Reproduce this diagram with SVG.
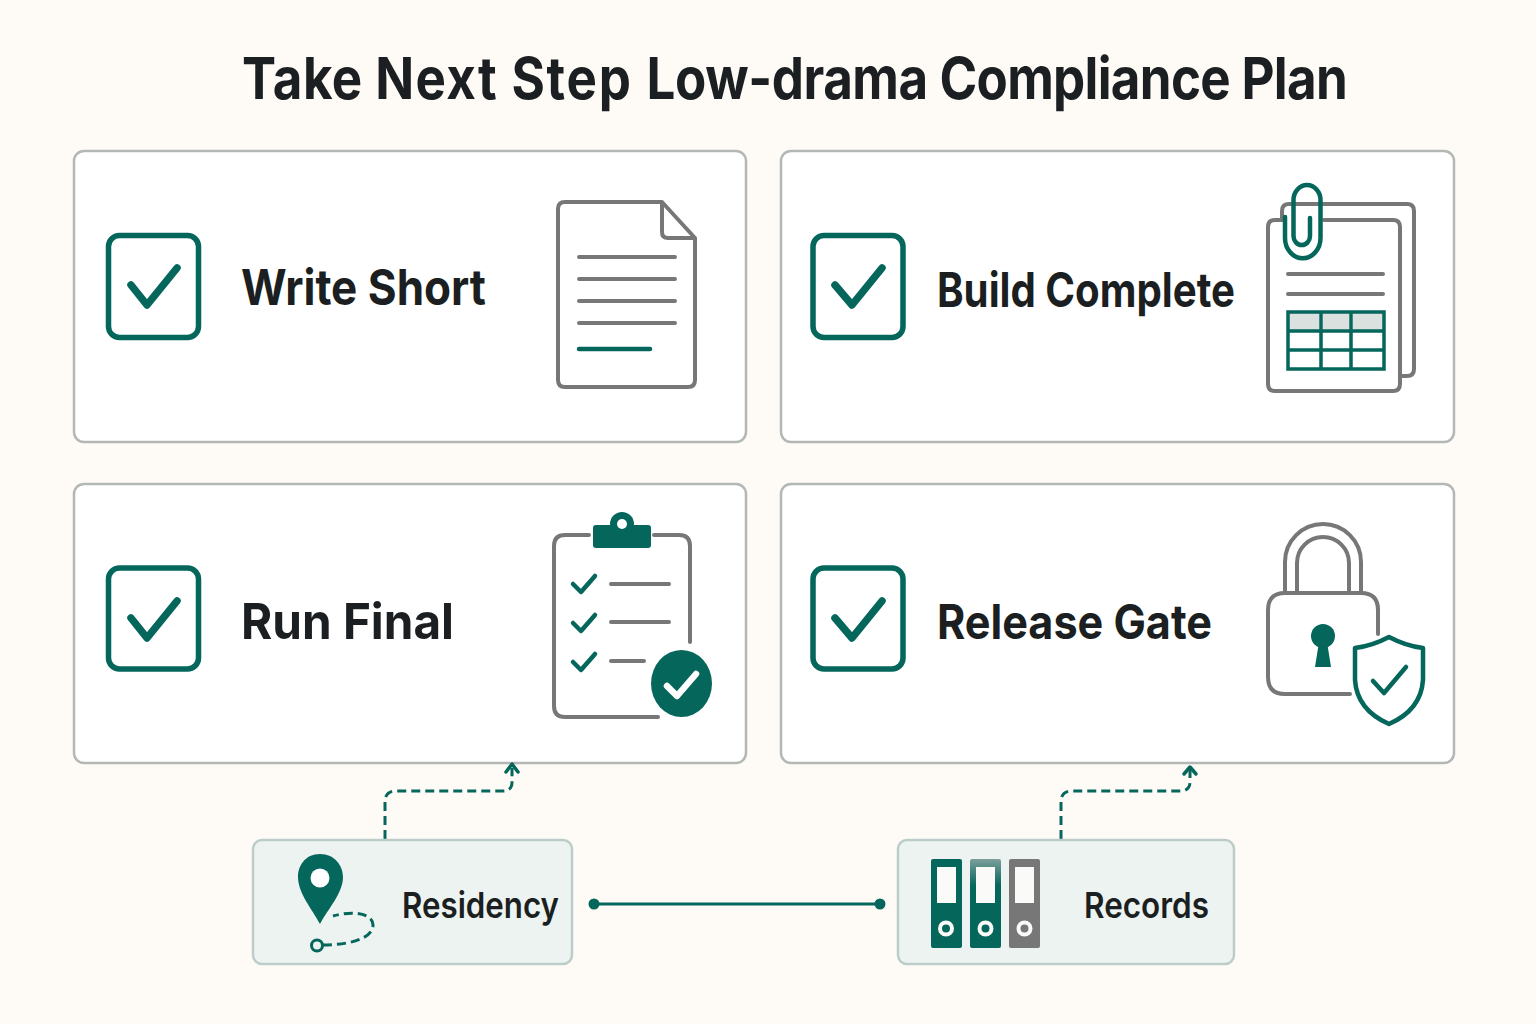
<svg xmlns="http://www.w3.org/2000/svg" width="1536" height="1024" viewBox="0 0 1536 1024">
<style>
.card{fill:#fff;stroke:#b4b8b5;stroke-width:2.5}
.sub{fill:#edf3f1;stroke:#bccdc9;stroke-width:2.5}
.t{font-family:Inter,"Liberation Sans",sans-serif;font-weight:700;fill:#1b1f21}
.s{font-weight:600}
.box{fill:none;stroke:#05665c;stroke-width:5.500}
.ck{fill:none;stroke:#05665c;stroke-width:7.500;stroke-linecap:round;stroke-linejoin:round}
.g{fill:none;stroke:#777;stroke-width:4;stroke-linecap:round;stroke-linejoin:round}
.gt{fill:none;stroke:#05665c;stroke-width:4.500;stroke-linecap:round;stroke-linejoin:round}
.ds{fill:none;stroke:#05665c;stroke-width:3;stroke-dasharray:9 5}
.ar{fill:none;stroke:#05665c;stroke-width:3.500;stroke-linecap:round;stroke-linejoin:round}
</style>
<defs>
<linearGradient id="fade" x1="0" y1="0" x2="0" y2="1"><stop offset="0" stop-color="#7d9f9b"/><stop offset="0.3" stop-color="#05665c"/></linearGradient>
</defs>
<rect width="1536" height="1024" fill="#fefbf7"/>
<text id="title" class="t" x="242" y="99" font-size="58" textLength="1105" lengthAdjust="spacingAndGlyphs"><tspan letter-spacing="0.5">Take </tspan><tspan letter-spacing="1.5">Next </tspan><tspan letter-spacing="2">Step </tspan><tspan letter-spacing="-0.5">Low-drama </tspan><tspan letter-spacing="-0.8">Compliance </tspan><tspan letter-spacing="-0.8">Plan</tspan></text>

<g id="card-write">
<rect class="card" x="74" y="151" width="672" height="291" rx="10"/>
<rect class="box" x="108.500" y="235.500" width="90" height="102" rx="11"/>
<path class="ck" d="M131 285L147 305L177 268"/>
<text class="t" x="241" y="305" font-size="50" textLength="245" lengthAdjust="spacingAndGlyphs">Write Short</text>
<path class="g" d="M662 202H565Q558 202 558 209V380Q558 387 565 387H688Q695 387 695 380V238ZM662 202V232Q662 238 668 238H695" stroke-width="3.500"/>
<path class="g" d="M579 257H675M579 279H675M579 301H675M579 323H675"/>
<path class="gt" d="M579 349H650"/>
</g>

<g id="card-build">
<rect class="card" x="781" y="151" width="673" height="291" rx="10"/>
<rect class="box" x="813" y="235.500" width="90" height="102" rx="11"/>
<path class="ck" d="M835 285L852 305L882 268"/>
<text class="t" x="937" y="307" font-size="48" textLength="298" lengthAdjust="spacingAndGlyphs">Build Complete</text>
<path class="g" d="M1282 219V211Q1282 204 1289 204H1407Q1414 204 1414 211V369Q1414 376 1407 376H1402"/>
<path class="g" d="M1284 220H1275Q1268 220 1268 227V384Q1268 391 1275 391H1393Q1400 391 1400 384V227Q1400 220 1393 220H1324"/>
<path class="gt" d="M1285 217V238A17.500 20 0 0 0 1320.500 238V200A13.500 15 0 0 0 1293.500 200V236A8.250 9 0 0 0 1310 236V218"/>
<path class="g" d="M1288 274H1383M1288 294H1383"/>
<rect x="1289" y="313" width="30" height="17" fill="#dbe1de"/><rect x="1323" y="313" width="26" height="17" fill="#dbe1de"/><rect x="1353" y="313" width="30" height="17" fill="#dbe1de"/>
<path d="M1288 312H1384V369H1288ZM1288 331H1384M1288 350H1384M1321 312V369M1351 312V369" fill="none" stroke="#05665c" stroke-width="3.500"/>
</g>

<g id="card-run">
<rect class="card" x="74" y="484" width="672" height="279" rx="10"/>
<rect class="box" x="108.500" y="568" width="90" height="101" rx="11"/>
<path class="ck" d="M131 618L147 638L177 601"/>
<text class="t" x="241" y="639" font-size="50" textLength="213" lengthAdjust="spacingAndGlyphs">Run Final</text>
<path class="g" d="M589 535H565Q554 535 554 546V706Q554 717 565 717H658M654 535H679Q690 535 690 546V642"/>
<circle cx="622" cy="524" r="12" fill="#05665c"/>
<rect x="593" y="525" width="58" height="23" rx="3" fill="#05665c"/>
<circle cx="622" cy="524" r="5" fill="#fff"/>
<path class="gt" d="M573 584L581 592L595 576M573 623L581 631L595 615M573 662L581 670L595 654"/>
<path class="g" d="M611 584H669M611 622H669M611 661H644"/>
<ellipse cx="681.500" cy="683.500" rx="30.500" ry="33.500" fill="#05665c"/>
<path d="M667 686L677 696L696 674" fill="none" stroke="#fff" stroke-width="6.500" stroke-linecap="round" stroke-linejoin="round"/>
</g>

<g id="card-release">
<rect class="card" x="781" y="484" width="673" height="279" rx="10"/>
<rect class="box" x="813" y="568" width="90" height="101" rx="11"/>
<path class="ck" d="M835 618L852 638L882 601"/>
<text class="t" x="937" y="639" font-size="48" textLength="275" lengthAdjust="spacingAndGlyphs">Release Gate</text>
<path class="g" d="M1350 694H1285Q1268 694 1268 677V610Q1268 593 1285 593H1361Q1378 593 1378 610V634"/>
<path class="g" d="M1285 592V562A38 38 0 0 1 1361 562V592M1297 592V563A26 26 0 0 1 1349 563V592"/>
<circle cx="1323" cy="636" r="12" fill="#05665c"/>
<path d="M1319 642H1327L1331 667H1315Z" fill="#05665c"/>
<path d="M1389 637Q1372 646 1355 648V680Q1357 710 1389 724Q1421 710 1423 680V648Q1406 646 1389 637Z" fill="#fff" stroke="#05665c" stroke-width="4.500" stroke-linejoin="round"/>
<path class="gt" d="M1373 681L1384 693L1406 667" stroke-width="6"/>
</g>

<g id="connectors">
<path class="ds" d="M385 839V802Q385 791 396 791H503Q512 791 512 782V768"/>
<path class="ar" d="M506 772L512 764L518 772"/>
<path class="ds" d="M1061 839V802Q1061 791 1072 791H1180Q1190 791 1190 782V770"/>
<path class="ar" d="M1184 774L1190 767L1196 774"/>
<path d="M594 904H880" stroke="#05665c" stroke-width="3"/>
<circle cx="594" cy="904" r="5.500" fill="#05665c"/>
<circle cx="880" cy="904" r="5.500" fill="#05665c"/>
</g>

<g id="node-residency">
<rect class="sub" x="253" y="840" width="319" height="124" rx="9"/>
<path d="M320 854C305 854 298 866 298 877C298 893 312 909 320 924C328 909 343 893 343 877C343 866 335 854 320 854Z" fill="#05665c"/>
<circle cx="320" cy="878" r="9.500" fill="#fff"/>
<circle cx="317" cy="945.500" r="5.500" fill="#edf3f1" stroke="#05665c" stroke-width="3"/>
<path d="M323 945C345 945 373 940 373 925C373 914 355 910 333 916" fill="none" stroke="#05665c" stroke-width="3" stroke-dasharray="9 5"/>
<text class="t s" x="402" y="918" font-size="36" textLength="157" lengthAdjust="spacingAndGlyphs">Residency</text>
</g>

<g id="node-records">
<rect class="sub" x="898" y="840" width="336" height="124" rx="9"/>
<rect x="931" y="859" width="31" height="89" rx="2" fill="#05665c"/>
<rect x="970" y="859" width="31" height="89" rx="2" fill="url(#fade)"/>
<rect x="1009" y="859" width="31" height="89" rx="2" fill="#777"/>
<rect x="937" y="867" width="19" height="36" fill="#fafaf8"/><rect x="976" y="867" width="19" height="36" fill="#fafaf8"/><rect x="1015" y="867" width="19" height="36" fill="#fafaf8"/>
<circle cx="946" cy="928.500" r="6" fill="none" stroke="#fafaf8" stroke-width="4"/>
<circle cx="985.500" cy="928.500" r="6" fill="none" stroke="#fafaf8" stroke-width="4"/>
<circle cx="1024.500" cy="928.500" r="6" fill="none" stroke="#fafaf8" stroke-width="4"/>
<text class="t s" x="1084" y="918" font-size="36" textLength="125" lengthAdjust="spacingAndGlyphs">Records</text>
</g>
</svg>
